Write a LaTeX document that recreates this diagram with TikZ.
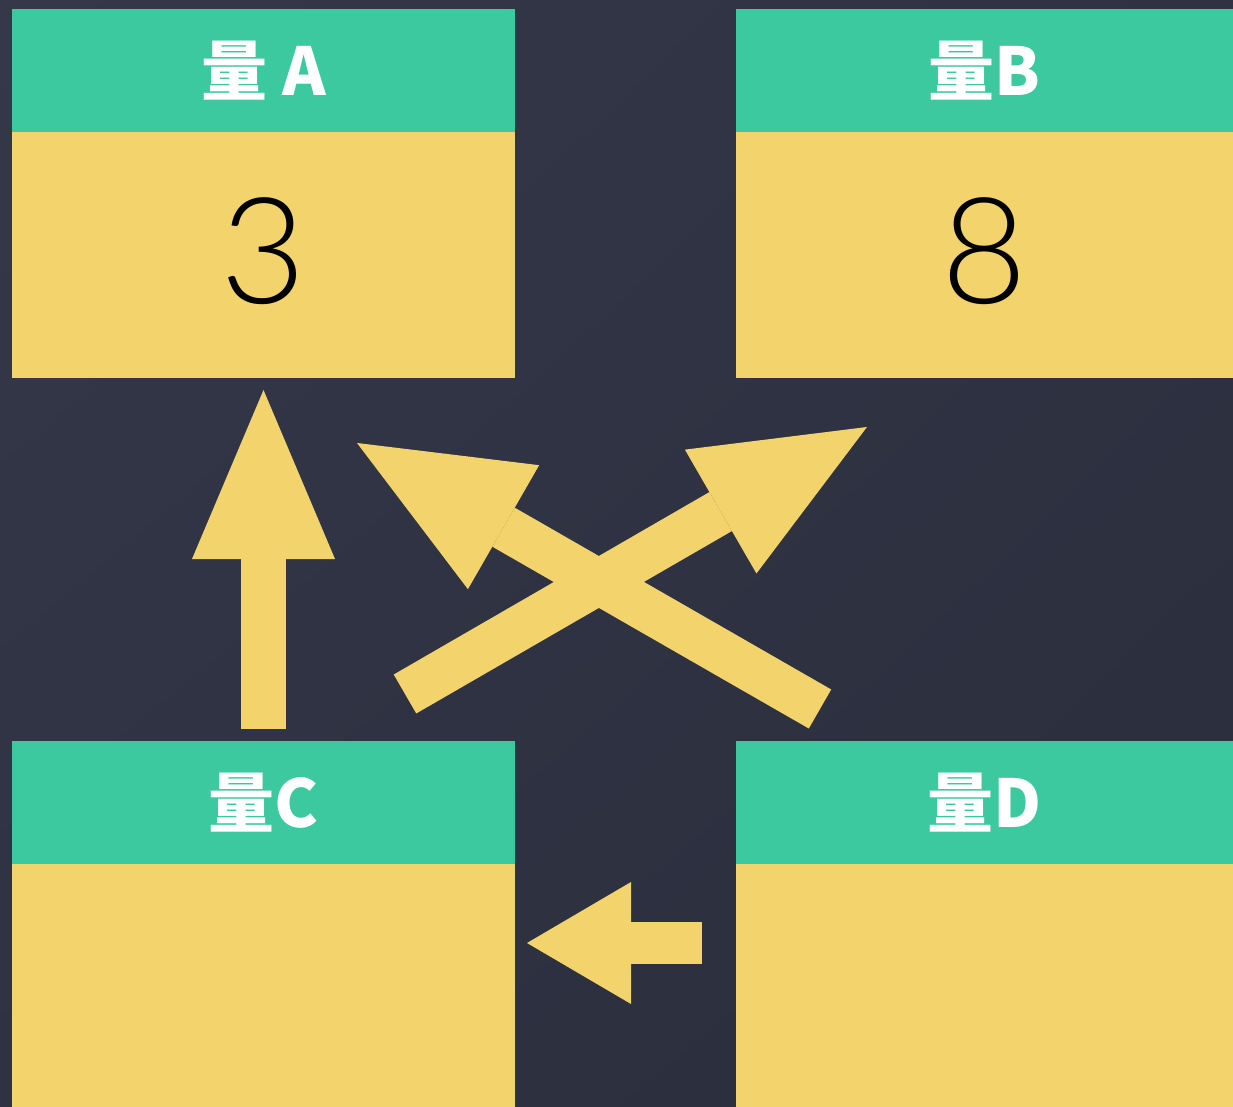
\documentclass[tikz,border=0pt]{standalone}
\usepackage{fontspec}
\newfontfamily\cjk{Noto Sans CJK SC}
\newfontfamily\numfont{Lato Light}
\usetikzlibrary{positioning,arrows.meta,shadings}
\definecolor{bgtl}{HTML}{353849}
\definecolor{bgmid}{HTML}{2F3242}
\definecolor{bgbr}{HTML}{2A2D3B}
\definecolor{headgreen}{HTML}{3DC9A0}
\definecolor{bodyyellow}{HTML}{F3D46C}

\begin{document}
\begin{tikzpicture}[
    x=0.5pt, y=-0.5pt,
    hdr/.style={rectangle, fill=headgreen, inner sep=0pt, minimum height=61.5pt, text=white, font=\cjk\bfseries\fontsize{33}{33}\selectfont},
    body/.style={rectangle, fill=bodyyellow, inner sep=0pt, font=\numfont\fontsize{74}{74}\selectfont},
    blockarrow/.style={draw=bodyyellow, line width=22.5pt, -{Triangle[length=84.5pt, width=71.5pt, line width=0pt]}},
    smallarrow/.style={draw=bodyyellow, line width=21pt, -{Triangle[length=52pt, width=61pt, line width=0pt]}},
]

% === BACKGROUND ===
\shade[upper left=bgtl, upper right=bgmid, lower left=bgmid, lower right=bgbr] (0,0) rectangle (1233,1107);
\useasboundingbox (0,0) rectangle (1233,1107);

% === TOP ROW ===
\node[hdr, minimum width=251.5pt] (hdrA) at (263.5,70.5) {量 A};
\node[body, minimum width=251.5pt, minimum height=123pt, below=-0.4pt of hdrA] (bodyA) {\raisebox{4pt}{3}};
\node[hdr, minimum width=248.5pt] (hdrB) at (984.5,70.5) {量B};
\node[body, minimum width=248.5pt, minimum height=123pt, below=-0.4pt of hdrB] (bodyB) {\raisebox{4pt}{8}};

% === BOTTOM ROW ===
\node[hdr, minimum width=251.5pt] (hdrC) at (263.5,802.5) {量C};
\node[body, minimum width=251.5pt, minimum height=121.5pt, below=-0.4pt of hdrC] (bodyC) {};
\node[hdr, minimum width=248.5pt] (hdrD) at (984.5,802.5) {量D};
\node[body, minimum width=248.5pt, minimum height=121.5pt, below=-0.4pt of hdrD] (bodyD) {};

% === ARROW ENDS ===
\coordinate (upTail) at (263.5,729);
\coordinate (upTip) at (263.5,390);
\coordinate (riseTail) at (405,694);
\coordinate (riseTip) at (867,427);
\coordinate (backTail) at (820,709);
\coordinate (backTip) at (357,443);
\coordinate (leftTail) at (702,943);
\coordinate (leftTip) at (527,943);

% === ARROWS ===
\draw[blockarrow] (upTail) -- (upTip);
\draw[blockarrow] (riseTail) -- (riseTip);
\draw[blockarrow] (backTail) -- (backTip);
\draw[smallarrow] (leftTail) -- (leftTip);

\end{tikzpicture}
\end{document}
